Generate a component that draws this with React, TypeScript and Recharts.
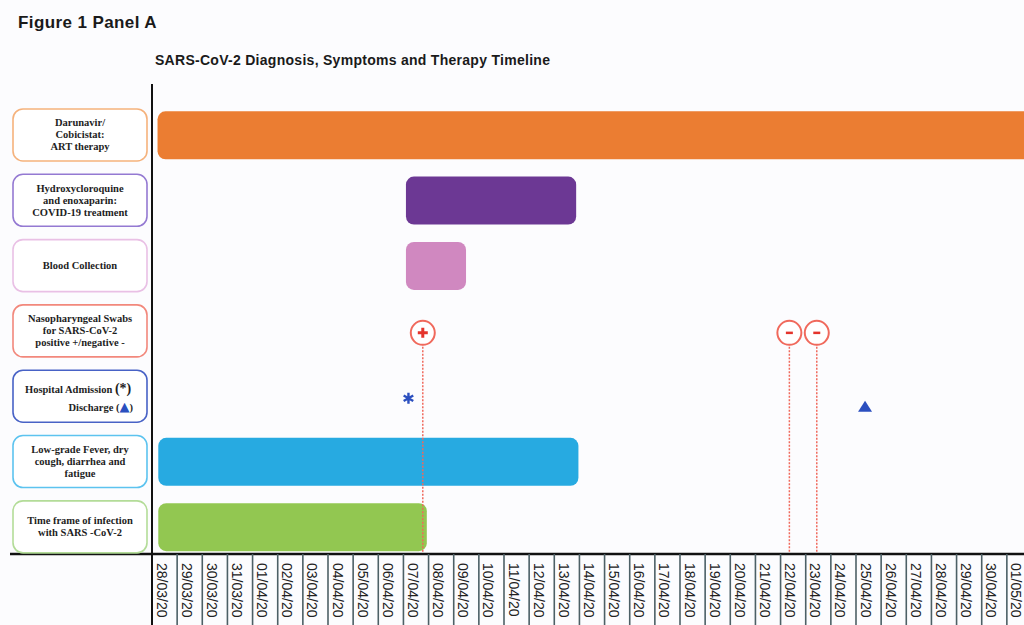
import React from "react";
import {
  ComposedChart,
  Bar,
  Cell,
  XAxis,
  YAxis,
  ReferenceDot,
  ReferenceLine,
} from "recharts";

// days on the x axis, one cell per day (index 0 = 28/03/20)
const DATES = [
  "28/03/20", "29/03/20", "30/03/20", "31/03/20",
  "01/04/20", "02/04/20", "03/04/20", "04/04/20", "05/04/20", "06/04/20",
  "07/04/20", "08/04/20", "09/04/20", "10/04/20", "11/04/20", "12/04/20",
  "13/04/20", "14/04/20", "15/04/20", "16/04/20", "17/04/20", "18/04/20",
  "19/04/20", "20/04/20", "21/04/20", "22/04/20", "23/04/20", "24/04/20",
  "25/04/20", "26/04/20", "27/04/20", "28/04/20", "29/04/20", "30/04/20",
  "01/05/20",
];

const ROWS = ["art", "hcq", "blood", "swab", "hospital", "symptoms", "infection"];

const ROW_LABELS = [
  ["Darunavir/", "Cobicistat:", "ART therapy"],
  ["Hydroxycloroquine", "and enoxaparin:", "COVID-19 treatment"],
  ["Blood Collection"],
  ["Nasopharyngeal Swabs", "for SARS-CoV-2", "positive +/negative -"],
  ["Hospital Admission", "Discharge"],
  ["Low-grade Fever, dry", "cough, diarrhea and", "fatigue"],
  ["Time frame of infection", "with SARS -CoV-2"],
];

// bar spans in day units
const BAR_START = [0.22, 10.1, 10.1, null, null, 0.25, 0.25];
const BAR_END = [35, 16.87, 12.49, null, null, 16.96, 10.93];

const BAR_COLORS = ["#eb7d32", "#6c3894", "#d088c0", "none", "none", "#27aae1", "#92c751"];
const BOX_COLORS = ["#f5b27c", "#9479d2", "#e9c0e5", "#f2887c", "#4862c6", "#5cc3ef", "#b3dc98"];

// swab results (day position) and hospital events
const SWAB_POSITIVE = [10.77];
const SWAB_NEGATIVE = [25.35, 26.44];
const ADMISSION = [10.2];
const DISCHARGE = [28.36];

// row positions on the hidden numeric axis (row i centre = i + 0.5)
const SWAB_ROW = 3.53;
const ADMISSION_ROW = 4.53;
const DISCHARGE_ROW = 4.66;
const AXIS_BOTTOM = 7;

const data = ROWS.map((row, i) => ({
  row,
  pos: i + 0.5,
  span: BAR_START[i] == null ? null : [BAR_START[i], BAR_END[i]],
}));

const TICKS: number[] = [];
DATES.forEach((_, i) => TICKS.push(i, i + 0.5));
TICKS.push(DATES.length);

const ROW_PAD = { top: 18.3, bottom: -5.5 };
const RED = "#f0695c";
const BLUE = "#2b4fbf";

function DateTick({ x, y, payload }: any) {
  const v = payload.value;
  if (Number.isInteger(v)) {
    return (
      <g>
        {v === 0 && <line x1={x - 142} y1={y} x2={x} y2={y} stroke="#111" strokeWidth={2.5} />}
        <line
          x1={x}
          y1={y}
          x2={x}
          y2={y + 72}
          stroke={v === 0 ? "#111" : "#4d6066"}
          strokeWidth={v === 0 ? 2 : 1.6}
        />
      </g>
    );
  }
  return (
    <text
      transform={`translate(${x - 3},${y + 9}) rotate(90)`}
      textAnchor="start"
      dominantBaseline="central"
      fontFamily="'Liberation Sans', Arial, sans-serif"
      fontSize={14}
      fill="#222"
    >
      {DATES[Math.floor(v)]}
    </text>
  );
}

function RowLabel({ x, y, payload }: any) {
  const i = ROWS.indexOf(payload.value);
  const lines = ROW_LABELS[i];
  const cx = x - 72;
  const font = {
    fontFamily: "'Liberation Serif', 'Times New Roman', serif",
    fontWeight: 700,
    fontSize: 10.5,
    fill: "#1e1e1e",
  };
  let body;
  if (payload.value === "hospital") {
    body = (
      <>
        <text x={x - 127} y={y - 3} {...font}>
          {lines[0]} <tspan fontSize={14}>(*)</tspan>
        </text>
        <text x={x - 19} y={y + 15} textAnchor="end" {...font}>
          {lines[1]} (<tspan fill={BLUE} fontFamily="'DejaVu Sans', sans-serif" fontSize={13}>▲</tspan>)
        </text>
      </>
    );
  } else {
    const first = y + 3.5 - ((lines.length - 1) * 12) / 2;
    body = (
      <text textAnchor="middle" {...font}>
        {lines.map((t, k) => (
          <tspan key={k} x={cx} y={first + k * 12}>
            {t}
          </tspan>
        ))}
      </text>
    );
  }
  return (
    <g>
      <rect x={x - 139} y={y - 26} width={134} height={52} rx={10} fill="#fff" stroke={BOX_COLORS[i]} strokeWidth={1.6} />
      {body}
    </g>
  );
}

const plusShape = ({ cx, cy }: any) => (
  <g>
    <circle cx={cx} cy={cy} r={12} fill="#fff" stroke={RED} strokeWidth={2} />
    <path d={`M${cx - 5},${cy}H${cx + 5}M${cx},${cy - 5}V${cy + 5}`} stroke="#e4342c" strokeWidth={3} />
  </g>
);

const minusShape = ({ cx, cy }: any) => (
  <g>
    <circle cx={cx} cy={cy} r={12} fill="#fff" stroke={RED} strokeWidth={2} />
    <path d={`M${cx - 3.5},${cy}H${cx + 3.5}`} stroke="#e4342c" strokeWidth={2.5} />
  </g>
);

const asteriskShape = ({ cx, cy }: any) => (
  <path
    d={`M${cx},${cy - 5.5}V${cy + 5.5}M${cx - 4.8},${cy - 2.75}L${cx + 4.8},${cy + 2.75}M${cx - 4.8},${cy + 2.75}L${cx + 4.8},${cy - 2.75}`}
    stroke={BLUE}
    strokeWidth={2.4}
  />
);

const triangleShape = ({ cx, cy }: any) => (
  <polygon points={`${cx},${cy - 6} ${cx + 7},${cy + 5} ${cx - 7},${cy + 5}`} fill={BLUE} />
);

export default function App() {
  return (
    <div
      style={{
        position: "absolute",
        left: 0,
        top: 0,
        width: 1024,
        height: 625,
        overflow: "hidden",
        background: "#fcfcfe",
        fontFamily: "'Liberation Sans', Arial, sans-serif",
      }}
    >
      <div
        style={{
          position: "absolute",
          left: 18,
          top: 14,
          fontSize: 17,
          lineHeight: "17px",
          fontWeight: 700,
          letterSpacing: 0.4,
          color: "#1a1a1a",
          whiteSpace: "nowrap",
        }}
      >
        Figure 1 Panel A
      </div>
      <div
        style={{
          position: "absolute",
          left: 155,
          top: 53,
          fontSize: 14,
          lineHeight: "14px",
          fontWeight: 700,
          letterSpacing: 0.28,
          color: "#1a1a1a",
          whiteSpace: "nowrap",
        }}
      >
        SARS-CoV-2 Diagnosis, Symptoms and Therapy Timeline
      </div>
      <div style={{ position: "absolute", left: 0, top: 0 }}>
        <ComposedChart
          width={1032}
          height={625}
          layout="vertical"
          data={data}
          margin={{ top: 84, right: 0, bottom: 0, left: 0 }}
        >
          <XAxis
            type="number"
            domain={[0, DATES.length]}
            ticks={TICKS}
            interval={0}
            allowDataOverflow
            tickSize={0}
            tickMargin={0}
            tickLine={false}
            axisLine={{ stroke: "#111", strokeWidth: 2.5 }}
            height={71}
            tick={(p: any) => <DateTick {...p} />}
          />
          <YAxis
            yAxisId="cat"
            type="category"
            dataKey="row"
            width={152}
            interval={0}
            tickSize={0}
            tickMargin={0}
            tickLine={false}
            padding={ROW_PAD}
            axisLine={{ stroke: "#111", strokeWidth: 2 }}
            tick={(p: any) => <RowLabel {...p} />}
          />
          <YAxis
            yAxisId="pos"
            type="number"
            dataKey="pos"
            domain={[0, ROWS.length]}
            hide
            padding={ROW_PAD}
            allowDataOverflow
          />
          <Bar yAxisId="cat" dataKey="span" barSize={48} radius={8} isAnimationActive={false}>
            {data.map((d, i) => (
              <Cell key={d.row} fill={BAR_COLORS[i]} />
            ))}
          </Bar>
          {[...SWAB_POSITIVE, ...SWAB_NEGATIVE].map((v) => (
            <ReferenceLine
              key={`l${v}`}
              yAxisId="pos"
              segment={[
                { x: v, y: SWAB_ROW },
                { x: v, y: AXIS_BOTTOM },
              ]}
              stroke={RED}
              strokeWidth={1.5}
              strokeDasharray="2 1.5"
              ifOverflow="hidden"
            />
          ))}
          {SWAB_POSITIVE.map((v) => (
            <ReferenceDot key={`p${v}`} yAxisId="pos" x={v} y={SWAB_ROW} r={12} shape={plusShape} ifOverflow="visible" />
          ))}
          {SWAB_NEGATIVE.map((v) => (
            <ReferenceDot key={`n${v}`} yAxisId="pos" x={v} y={SWAB_ROW} r={12} shape={minusShape} ifOverflow="visible" />
          ))}
          {ADMISSION.map((v) => (
            <ReferenceDot key={`a${v}`} yAxisId="pos" x={v} y={ADMISSION_ROW} r={6} shape={asteriskShape} ifOverflow="visible" />
          ))}
          {DISCHARGE.map((v) => (
            <ReferenceDot key={`d${v}`} yAxisId="pos" x={v} y={DISCHARGE_ROW} r={6} shape={triangleShape} ifOverflow="visible" />
          ))}
        </ComposedChart>
      </div>
    </div>
  );
}
